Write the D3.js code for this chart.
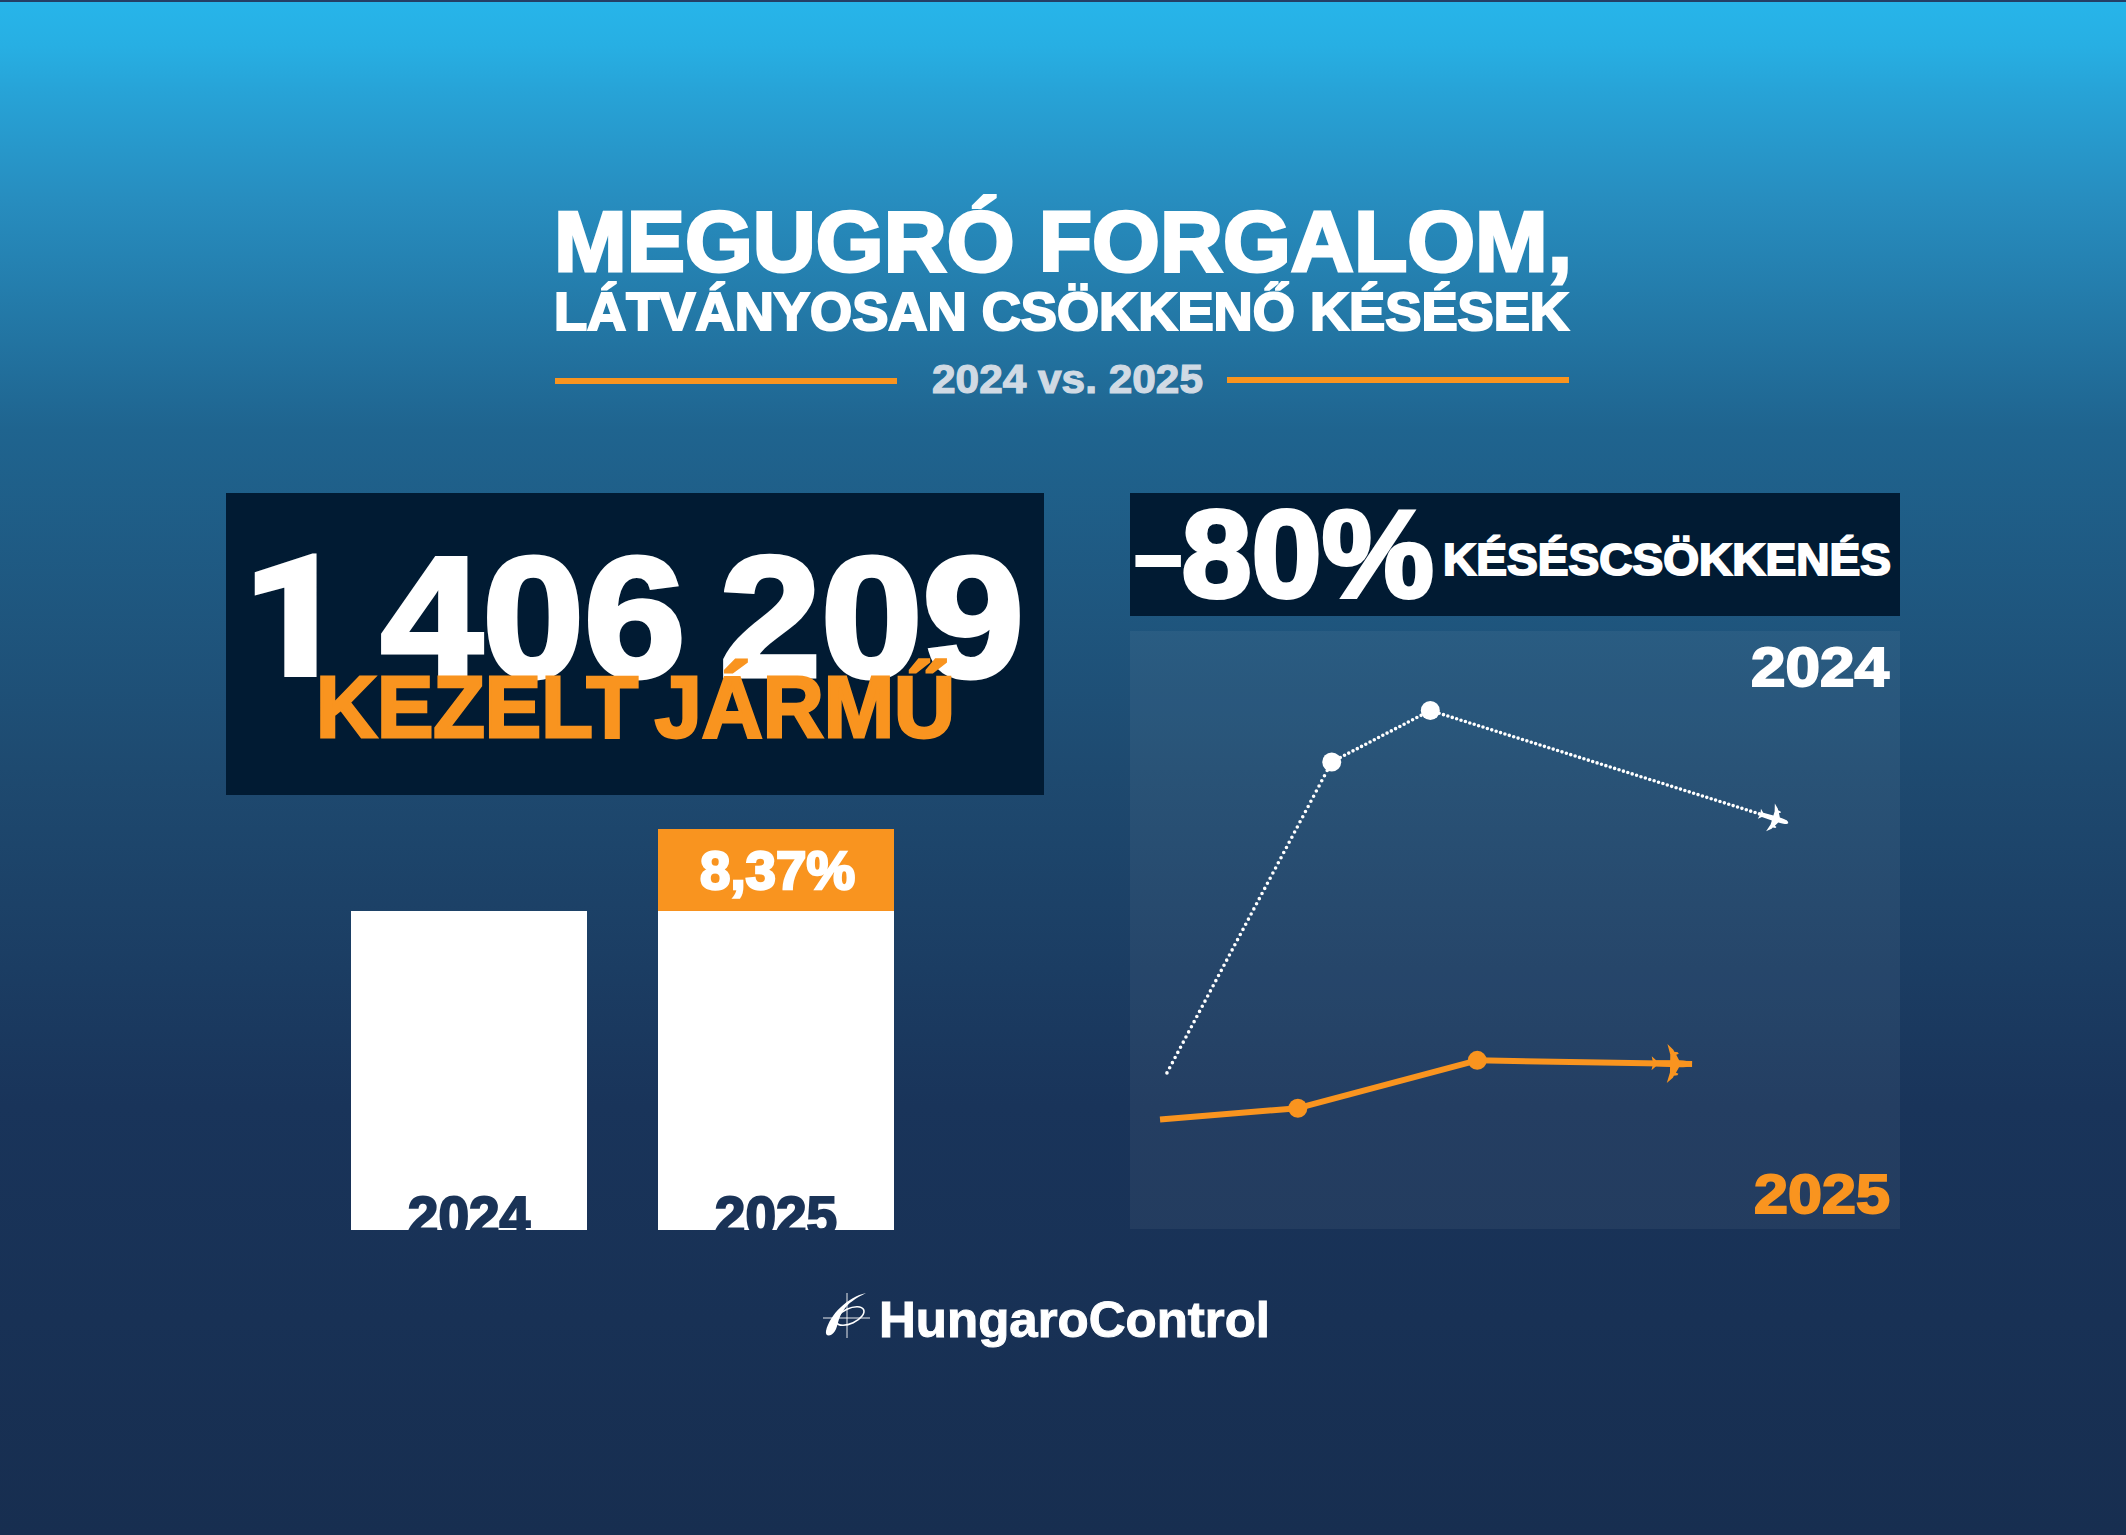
<!DOCTYPE html>
<html lang="hu">
<head>
  <meta charset="UTF-8">
  <title>Megugró forgalom</title>
  <script src="https://d3js.org/d3.v7.min.js"></script>
  <style>
    html, body { margin: 0; padding: 0; background: #182f52; }
    svg { display: block; }
    text { font-family: "Liberation Sans", Arial, sans-serif; font-weight: 700; }
  </style>
</head>
<body>
  <div id="chart"></div>
  <script>
    // bars: vehicles handled (the picture's axis is cut off, it does not start at 0)
    const barYears = ["2024", "2025"];
    const barBase = [1297600, 1297600];
    const barGrowth = [0, 108609];
    const barGrowthLabel = "8,37%";

    // delay lines on a 0-100 grid (no axis in the original)
    const delay2024x = [4.8, 26.2, 39, 85.5];
    const delay2024y = [26.1, 78.1, 86.7, 67.9];
    const delay2025x = [3.9, 21.8, 45.1, 73];
    const delay2025y = [18.3, 20.2, 28.2, 27.6];

    const orange = "#f9941f";
    const navy = "#011b33";
    const width = 2126, height = 1535;

    const svg = d3.select("#chart").append("svg")
      .attr("width", width)
      .attr("height", height);

    const defs = svg.append("defs");
    const grad = defs.append("linearGradient")
      .attr("id", "bg")
      .attr("x1", 0).attr("y1", 0).attr("x2", 0).attr("y2", 1);
    [[0, "#27b5ea"], [0.03, "#27afe3"], [0.06, "#27a3d7"], [0.13, "#278dbf"], [0.28, "#1f648f"],
     [0.5, "#1e4a70"], [0.72, "#19345a"], [1, "#172e50"]].forEach(d => {
      grad.append("stop").attr("offset", d[0]).attr("stop-color", d[1]);
    });

    svg.append("rect").attr("width", width).attr("height", height).attr("fill", "url(#bg)");
    svg.append("rect").attr("width", width).attr("height", 2).attr("fill", "#243f66");

    // text fitted to a measured width, with a stroke to get the heavy weight
    function label(str, x1, x2, base, size, color, weight) {
      return svg.append("text")
        .attr("x", x1)
        .attr("y", base)
        .attr("textLength", x2 - x1)
        .attr("lengthAdjust", "spacingAndGlyphs")
        .style("font-size", size + "px")
        .attr("fill", color)
        .attr("stroke", color)
        .attr("stroke-width", weight)
        .attr("stroke-linejoin", "miter")
        .text(str);
    }

    // header
    label("MEGUGRÓ FORGALOM,", 554, 1572, 271, 85, "#fff", 3);
    label("LÁTVÁNYOSAN CSÖKKENŐ KÉSÉSEK", 554, 1569, 330, 53, "#fff", 2.2);
    label("2024 vs. 2025", 932, 1203, 393, 41, "#d0dae4", 1.2);
    svg.append("rect").attr("x", 555).attr("y", 378).attr("width", 342).attr("height", 6).attr("fill", orange);
    svg.append("rect").attr("x", 1227).attr("y", 377).attr("width", 342).attr("height", 6).attr("fill", orange);

    // left box
    svg.append("rect").attr("x", 226).attr("y", 493).attr("width", 818).attr("height", 302).attr("fill", navy);
    const total = label("", 241, 1024, 676, 171, "#fff", 5).style("word-spacing", "-0.09em");
    // Roboto only for the first digit: its 1 has no foot, like the original
    total.append("tspan").style("font-family", "Roboto").style("font-weight", 900).attr("stroke-width", 2).text("1");
    total.append("tspan").text(" 406 209");
    label("KEZELT JÁRMŰ", 316, 955, 737, 88, orange, 3).style("word-spacing", "-0.08em");

    // bars
    const xBar = d3.scaleBand().domain(barYears).range([351, 894]).paddingInner(0.2313).paddingOuter(0);
    const yBar = d3.scaleLinear().domain([875000, 1406209]).range([1230, 829]);

    defs.append("clipPath").attr("id", "barClip").append("rect")
      .attr("x", 0).attr("y", 0).attr("width", width).attr("height", yBar(875000));

    const bars = svg.selectAll(".bar").data(barYears).join("g").attr("class", "bar");
    bars.append("rect")
      .attr("x", d => xBar(d))
      .attr("y", (d, i) => yBar(barBase[i]))
      .attr("width", xBar.bandwidth())
      .attr("height", (d, i) => yBar(875000) - yBar(barBase[i]))
      .attr("fill", "#fff");
    bars.filter((d, i) => barGrowth[i] > 0).append("rect")
      .attr("x", d => xBar(d))
      .attr("y", d => { const i = barYears.indexOf(d); return yBar(barBase[i] + barGrowth[i]); })
      .attr("height", d => { const i = barYears.indexOf(d); return yBar(barBase[i]) - yBar(barBase[i] + barGrowth[i]); })
      .attr("width", xBar.bandwidth())
      .attr("fill", orange);
    // the year labels are cut by the bottom of the bar in the original too
    bars.append("g").attr("clip-path", "url(#barClip)").append("text")
      .attr("x", d => xBar(d) + xBar.bandwidth() / 2)
      .attr("y", 1235)
      .attr("text-anchor", "middle")
      .attr("fill", "#1a3357")
      .attr("stroke", "#1a3357")
      .attr("stroke-width", 2.2)
      .style("font-size", "55px")
      .text(d => d);
    label(barGrowthLabel, 700, 855, 889, 53, "#fff", 2.5);

    // right header
    svg.append("rect").attr("x", 1130).attr("y", 493).attr("width", 770).attr("height", 123).attr("fill", navy);
    const pct = label("", 1135, 1434, 597, 124, "#fff", 4);
    pct.append("tspan").style("font-size", "82px").attr("dy", -14).text("–");
    pct.append("tspan").attr("dy", 14).text("80%");
    label("KÉSÉSCSÖKKENÉS", 1443, 1891, 575, 45, "#fff", 2);

    // line panel
    svg.append("rect").attr("x", 1130).attr("y", 631).attr("width", 770).attr("height", 598)
      .attr("fill", "#fff").attr("opacity", 0.05);
    label("2024", 1751, 1889, 686, 56, "#fff", 2);
    label("2025", 1754, 1890, 1213, 56, orange, 2);

    const xLine = d3.scaleLinear().domain([0, 100]).range([1130, 1900]);
    const yLine = d3.scaleLinear().domain([0, 100]).range([1229, 631]);
    const line = d3.line().x(d => xLine(d[0])).y(d => yLine(d[1]));

    // nose at 0,0, drawn pointing to +x
    const half = "C-1,-2 -4,-3.2 -9,-3.4 L-13,-3.6 L-16,-9 L-13.5,-10 L-14.5,-11.5 L-18,-12 L-19,-14 L-25,-19.5 L-22,-9 L-22,-3.4 L-36,-3 L-40.5,-7 L-39,0 ";
    const planePath = "M0,0 " + half + "L-40.5,7 L-36,3 L-22,3.4 L-22,9 L-25,19.5 L-19,14 L-18,12 L-14.5,11.5 L-13.5,10 L-16,9 L-13,3.6 L-9,3.4 C-4,3.2 -1,2 0,0 Z";

    function drawSeries(xs, ys, color, lineStyle, planeScale) {
      const pts = d3.zip(xs, ys);
      const g = svg.append("g");
      // one path per segment: the dot spacing differs between the segments
      d3.pairs(pts).forEach((seg, i) => {
        const path = g.append("path")
          .attr("d", line(seg))
          .attr("fill", "none")
          .attr("stroke", color)
          .attr("stroke-width", lineStyle.width);
        if (lineStyle.gaps) {
          path.attr("stroke-dasharray", `0 ${lineStyle.gaps[i]}`).attr("stroke-linecap", "round");
        }
      });
      g.selectAll("circle").data(pts.slice(1, 3)).join("circle")
        .attr("cx", d => xLine(d[0]))
        .attr("cy", d => yLine(d[1]))
        .attr("r", 9.5)
        .attr("fill", color);
      // plane sits on the last point, nose along the last segment
      const a = pts[pts.length - 2], b = pts[pts.length - 1];
      const angle = Math.atan2(yLine(b[1]) - yLine(a[1]), xLine(b[0]) - xLine(a[0])) * 180 / Math.PI;
      g.append("path")
        .attr("d", planePath)
        .attr("fill", color)
        .attr("transform", `translate(${xLine(b[0])},${yLine(b[1])}) rotate(${angle}) scale(${planeScale})`);
    }

    drawSeries(delay2024x, delay2024y, "#fff", { width: 3.6, gaps: [5.8, 4.8, 4.6] }, 0.75);
    drawSeries(delay2025x, delay2025y, orange, { width: 6 }, 1);

    // logo
    const logo = svg.append("g").attr("fill", "none").attr("stroke", "#fff");
    logo.append("path").attr("d", "M823,1318 H870 M847,1293 V1338").attr("stroke-width", 0.9);
    logo.append("ellipse").attr("cx", 850).attr("cy", 1316).attr("rx", 15).attr("ry", 7.5)
      .attr("transform", "rotate(-25 850 1316)").attr("stroke-width", 1.6);
    logo.append("path").attr("d", "M866,1293 C848,1297 830,1314 826,1331 C825,1337 831,1337 835,1331 C838,1326 838,1318 843,1311 C848,1303 856,1298 866,1293 Z")
      .attr("fill", "#fff").attr("stroke", "none");
    label("HungaroControl", 879, 1270, 1337, 50, "#fff", 1);
  </script>
</body>
</html>
